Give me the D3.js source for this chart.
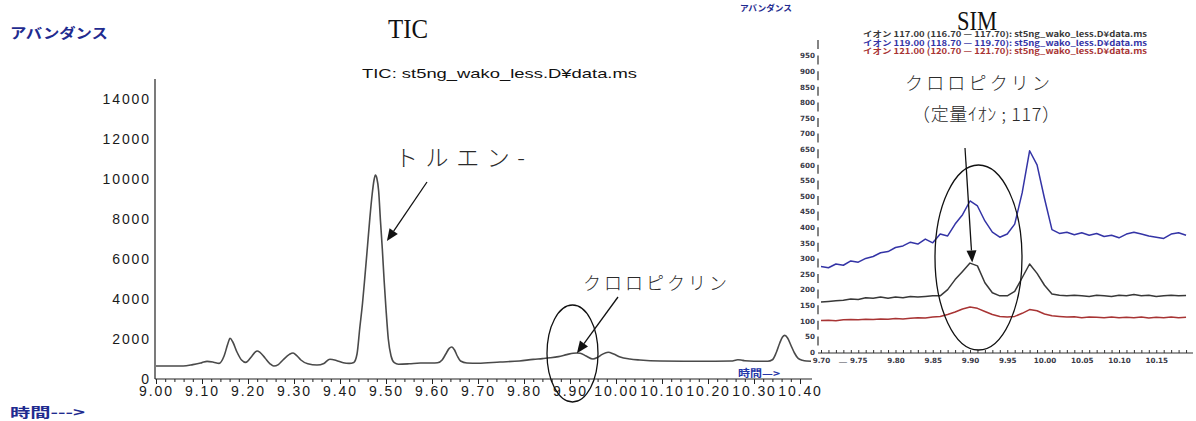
<!DOCTYPE html>
<html>
<head>
<meta charset="utf-8">
<script src="https://cdn.jsdelivr.net/npm/d3@7"></script>
<style>
  html, body { margin: 0; padding: 0; background: #fff; }
  svg { display: block; }
</style>
</head>
<body>
<svg id="chart" width="1196" height="421"></svg>
<script>
// ---- TIC trace: retention time (min) and abundance ----
const ticTime = [
  9.000, 9.059, 9.080, 9.100, 9.111, 9.125, 9.137, 9.148, 9.156, 9.161, 9.167, 9.176, 9.186, 9.195,
  9.207, 9.215, 9.220, 9.226, 9.237, 9.248, 9.256, 9.266, 9.276, 9.290, 9.298, 9.306, 9.315, 9.330,
  9.350, 9.365, 9.378, 9.392, 9.407, 9.420, 9.430, 9.437, 9.443, 9.449, 9.454, 9.460, 9.465, 9.470,
  9.474, 9.477, 9.480, 9.484, 9.488, 9.492, 9.496, 9.500, 9.505, 9.511, 9.518, 9.527, 9.550, 9.575,
  9.600, 9.612, 9.622, 9.630, 9.637, 9.643, 9.649, 9.655, 9.662, 9.676, 9.700, 9.748, 9.790, 9.820,
  9.840, 9.857, 9.875, 9.893, 9.907, 9.915, 9.922, 9.935, 9.950, 9.960, 9.970, 9.983, 9.995, 10.009,
  10.030, 10.052, 10.096, 10.150, 10.200, 10.250, 10.265, 10.272, 10.280, 10.300, 10.330, 10.340,
  10.348, 10.356, 10.362, 10.367, 10.373, 10.380, 10.388, 10.396, 10.405, 10.414, 10.424
];
const ticAbundance = [
  650, 650, 720, 820, 880, 840, 780, 1150, 1750, 2040, 1850, 1350, 950, 830,
  1100, 1330, 1400, 1330, 1050, 760, 650, 720, 950, 1230, 1300, 1170, 950, 760,
  700, 780, 990, 930, 810, 780, 830, 1250, 2550, 3800, 5080, 6700, 8070, 9250,
  9950, 10200, 10050, 9400, 7900, 6500, 4900, 3500, 2000, 1150, 820, 740, 760, 800,
  800, 810, 950, 1250, 1520, 1600, 1450, 1150, 900, 800, 790, 850, 900, 980,
  1020, 1060, 1120, 1220, 1290, 1300, 1290, 1150, 1000, 1080, 1230, 1340, 1250, 1100,
  1000, 950, 900, 890, 890, 900, 960, 950, 910, 890, 890, 960,
  1300, 1800, 2100, 2180, 2050, 1700, 1300, 1030, 940, 900, 890
];
const ticYTicks = [0, 2000, 4000, 6000, 8000, 10000, 12000, 14000];
const ticXTicks = [9.0, 9.1, 9.2, 9.3, 9.4, 9.5, 9.6, 9.7, 9.8, 9.9, 10.0, 10.1, 10.2, 10.3, 10.4];

// ---- SIM traces: ions 117 / 119 / 121 ----
const simTime = [
  9.70, 9.71, 9.72, 9.73, 9.74, 9.75, 9.76, 9.77, 9.78, 9.79,
  9.80, 9.81, 9.82, 9.83, 9.84, 9.85, 9.86, 9.87, 9.88, 9.89,
  9.90, 9.91, 9.92, 9.93, 9.94, 9.95, 9.96, 9.97, 9.98, 9.99,
  10.00, 10.01, 10.02, 10.03, 10.04, 10.05, 10.06, 10.07, 10.08, 10.09,
  10.10, 10.11, 10.12, 10.13, 10.14, 10.15, 10.16, 10.17, 10.18, 10.19
];
const ion117 = [
  160, 162, 164, 166, 170, 168, 174, 172, 176, 172,
  176, 174, 178, 176, 178, 180, 180, 200, 232, 258,
  285, 276, 222, 190, 180, 180, 194, 238, 282, 252,
  214, 186, 182, 180, 182, 180, 178, 182, 180, 178,
  182, 180, 184, 180, 182, 178, 180, 182, 180, 181
];
const ion119 = [
  274, 270, 282, 278, 292, 288, 300, 306, 318, 322,
  335, 340, 352, 346, 362, 350, 378, 372, 410, 440,
  484, 468, 420, 384, 368, 378, 410, 510, 645, 600,
  492, 392, 380, 384, 376, 382, 374, 380, 370, 374,
  366, 378, 384, 378, 372, 368, 364, 378, 382, 374
];
const ion121 = [
  101, 102, 100, 103, 104, 103, 105, 104, 106, 105,
  107, 106, 108, 110, 109, 112, 114, 120, 128, 138,
  144, 140, 130, 120, 114, 112, 114, 124, 136, 132,
  122, 116, 114, 112, 113, 110, 112, 111, 110, 112,
  110, 111, 110, 112, 109, 111, 110, 112, 110, 111
];
const simYTicks = [0, 50, 100, 150, 200, 250, 300, 350, 400, 450, 500, 550, 600, 650, 700, 750, 800, 850, 900, 950];
const simXTicks = [9.70, 9.75, 9.80, 9.85, 9.90, 9.95, 10.00, 10.05, 10.10, 10.15];
const simLegend = [
  "イオン 117.00 (116.70 — 117.70): st5ng_wako_less.D¥data.ms",
  "イオン 119.00 (118.70 — 119.70): st5ng_wako_less.D¥data.ms",
  "イオン 121.00 (120.70 — 121.70): st5ng_wako_less.D¥data.ms"
];
const simColors = ["#383838", "#3434a6", "#a83434"];

const svg = d3.select("#chart");
svg.append("rect").attr("width", 1196).attr("height", 421).attr("fill", "#fff");

const JP = "'Noto Sans CJK JP', 'Noto Sans', sans-serif";
const SANS = "'Liberation Sans', Arial, sans-serif";
const SERIF = "'Liberation Serif', 'DejaVu Serif', serif";

// ===================== TIC panel =====================
const xL = d3.scaleLinear().domain([9.0, 10.4]).range([156, 800]);
const yL = d3.scaleLinear().domain([0, 15000]).range([379, 79]);

const tic = svg.append("g");

// y axis
const yAxisL = tic.append("g")
  .attr("transform", `translate(155,0)`)
  .call(d3.axisLeft(yL).tickValues(ticYTicks).tickSize(0).tickPadding(4).tickFormat(d3.format("d")));
yAxisL.select(".domain").remove();
yAxisL.selectAll("text")
  .attr("font-family", SANS).attr("font-size", 14).attr("fill", "#1a1a1a")
  .style("letter-spacing", "1.9px");
tic.append("line").attr("x1", 155).attr("x2", 155).attr("y1", 79).attr("y2", yL(0))
  .attr("stroke", "#222").attr("stroke-width", 1.2);

// x axis: minor ticks + labelled major ticks
const minorL = d3.range(0, 71).map(i => 9.0 + i * 0.02);
const xMinorL = tic.append("g").attr("transform", `translate(0,${yL(0)})`)
  .call(d3.axisBottom(xL).tickValues(minorL).tickSize(3).tickFormat(""));
xMinorL.select(".domain").remove();
xMinorL.selectAll("line").attr("stroke", "#222");
const xAxisL = tic.append("g").attr("transform", `translate(0,${yL(0)})`)
  .call(d3.axisBottom(xL).tickValues(ticXTicks).tickSize(5).tickPadding(2).tickFormat(d3.format(".2f")));
xAxisL.select(".domain").remove();
xAxisL.selectAll("line").attr("stroke", "#222");
xAxisL.selectAll("text")
  .attr("font-family", SANS).attr("font-size", 14).attr("fill", "#1a1a1a")
  .style("letter-spacing", "1.9px");
tic.append("line").attr("x1", 155).attr("x2", 812).attr("y1", yL(0)).attr("y2", yL(0))
  .attr("stroke", "#222").attr("stroke-width", 1.2);

// trace
const ticLine = d3.line().x(d => xL(d[0])).y(d => yL(d[1])).curve(d3.curveMonotoneX);
tic.append("path")
  .datum(ticTime.map((t, i) => [t, ticAbundance[i]]))
  .attr("d", ticLine)
  .attr("fill", "none").attr("stroke", "#4a4a4a").attr("stroke-width", 1.6);

// panel texts
svg.append("text").attr("x", 10).attr("y", 38).text("アバンダンス")
  .attr("font-family", JP).attr("font-weight", "bold").attr("font-size", 14)
  .attr("fill", "#1f2b8f").attr("textLength", 98).attr("lengthAdjust", "spacingAndGlyphs");
svg.append("text").attr("x", 10).attr("y", 417).text("時間--->")
  .attr("font-family", JP).attr("font-weight", "bold").attr("font-size", 13)
  .attr("fill", "#1f2b8f").attr("textLength", 75).attr("lengthAdjust", "spacingAndGlyphs");
svg.append("text").attr("x", 738).attr("y", 377).text("時間—>")
  .attr("font-family", JP).attr("font-weight", "bold").attr("font-size", 10)
  .attr("fill", "#2436a8").attr("textLength", 42).attr("lengthAdjust", "spacingAndGlyphs");
svg.append("text").attr("x", 362).attr("y", 78).text("TIC: st5ng_wako_less.D¥data.ms")
  .attr("font-family", SANS).attr("font-size", 13.5).attr("fill", "#111")
  .attr("textLength", 275).attr("lengthAdjust", "spacingAndGlyphs");
svg.append("text").attr("x", 388).attr("y", 38).text("TIC")
  .attr("font-family", SERIF).attr("font-size", 27).attr("fill", "#111")
  .attr("textLength", 40).attr("lengthAdjust", "spacingAndGlyphs");

// ===================== SIM panel =====================
const xR = d3.scaleLinear().domain([9.70, 10.20]).range([821, 1193.5]);
const yR = d3.scaleLinear().domain([0, 1000]).range([352, 40]);
const sim = svg.append("g");

const yAxisR = sim.append("g").attr("transform", `translate(818,0)`)
  .call(d3.axisLeft(yR).tickValues(simYTicks).tickSize(0).tickPadding(3));
yAxisR.select(".domain").remove();
yAxisR.selectAll("text")
  .attr("font-family", "'DejaVu Sans', sans-serif").attr("font-weight", "bold")
  .attr("font-size", 7.2).attr("fill", "#3a3a48");
sim.append("line").attr("x1", 818).attr("x2", 818).attr("y1", 40).attr("y2", yR(0))
  .attr("stroke", "#333").attr("stroke-width", 1.2).attr("stroke-dasharray", "9,6.6");

const minorR = d3.range(0, 50).map(i => 9.70 + i * 0.01);
const xMinorR = sim.append("g").attr("transform", `translate(0,${yR(0) + 1})`)
  .call(d3.axisTop(xR).tickValues(minorR).tickSize(3).tickFormat(""));
xMinorR.select(".domain").remove();
xMinorR.selectAll("line").attr("stroke", "#333");
const xAxisR = sim.append("g").attr("transform", `translate(0,${yR(0) + 1})`)
  .call(d3.axisBottom(xR).tickValues(simXTicks).tickSize(0).tickPadding(5).tickFormat(d3.format(".2f")));
xAxisR.select(".domain").remove();
xAxisR.selectAll("text")
  .attr("font-family", "'DejaVu Sans', sans-serif").attr("font-weight", "bold")
  .attr("font-size", 7.2).attr("fill", "#3a3a48");
sim.append("line").attr("x1", 818).attr("x2", 1193).attr("y1", yR(0) + 1).attr("y2", yR(0) + 1)
  .attr("stroke", "#333").attr("stroke-width", 1.2);
sim.append("text").attr("x", 839).attr("y", 364).text("—")
  .attr("font-family", SANS).attr("font-size", 8).attr("fill", "#3a3a48");

const simLine = d3.line().x(d => xR(d[0])).y(d => yR(d[1]));
[ion117, ion119, ion121].forEach((series, k) => {
  sim.append("path")
    .datum(simTime.map((t, i) => [t, series[i]]))
    .attr("d", simLine)
    .attr("fill", "none").attr("stroke", simColors[k]).attr("stroke-width", 1.5)
    .attr("stroke-linejoin", "round");
});

svg.append("text").attr("x", 740).attr("y", 11).text("アバンダンス")
  .attr("font-family", JP).attr("font-weight", "bold").attr("font-size", 8.5)
  .attr("fill", "#1f2b8f").attr("textLength", 52).attr("lengthAdjust", "spacingAndGlyphs");
svg.append("text").attr("x", 957).attr("y", 30).text("SIM")
  .attr("font-family", SERIF).attr("font-size", 27).attr("fill", "#111")
  .attr("textLength", 40).attr("lengthAdjust", "spacingAndGlyphs");
simLegend.forEach((s, k) => {
  svg.append("text").attr("x", 863).attr("y", 37 + k * 8.6).text(s)
    .attr("font-family", JP).attr("font-weight", "bold").attr("font-size", 7.6)
    .attr("fill", simColors[k]).attr("textLength", 284).attr("lengthAdjust", "spacingAndGlyphs");
});

// ===================== annotations =====================
function arrow(x1, y1, x2, y2) {
  const a = Math.atan2(y2 - y1, x2 - x1), L = 12, W = 5;
  const bx = x2 - L * Math.cos(a), by = y2 - L * Math.sin(a);
  svg.append("line").attr("x1", x1).attr("y1", y1).attr("x2", bx).attr("y2", by)
    .attr("stroke", "#111").attr("stroke-width", 1.3);
  svg.append("path")
    .attr("d", `M${x2},${y2}L${bx + W * Math.sin(a)},${by - W * Math.cos(a)}L${bx - W * Math.sin(a)},${by + W * Math.cos(a)}Z`)
    .attr("fill", "#111");
}
function note(x, y, s, len, size) {
  svg.append("text").attr("x", x).attr("y", y).text(s)
    .attr("font-family", JP).attr("font-weight", 300).attr("font-size", size)
    .attr("fill", "#2a2a2a").attr("textLength", len).attr("lengthAdjust", "spacing");
}

// toluene
note(395, 166, "トルエン-", 130, 23);
arrow(427, 182, xL(9.502), yL(6900));
// chloropicrin on TIC
note(583, 290, "クロロピクリン", 144, 18);
arrow(618, 297, xL(9.915), yL(1290));
svg.append("ellipse").attr("cx", 572.5).attr("cy", 353.5).attr("rx", 25.5).attr("ry", 48.5)
  .attr("fill", "none").attr("stroke", "#111").attr("stroke-width", 1.3);
// chloropicrin on SIM (quant ion 117)
note(905, 90, "クロロピクリン", 145, 18);
note(912, 121, "（定量ｲｵﾝ ; 117）", 148, 18);
arrow(965, 148, xR(9.903), yR(287));
svg.append("ellipse").attr("cx", 978.5).attr("cy", 257.5).attr("rx", 43.5).attr("ry", 92.5)
  .attr("fill", "none").attr("stroke", "#111").attr("stroke-width", 1.3);
</script>
</body>
</html>
